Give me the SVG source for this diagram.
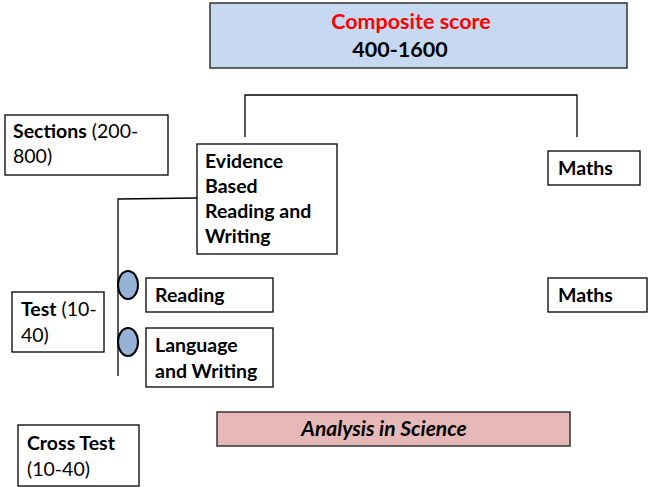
<svg xmlns="http://www.w3.org/2000/svg" width="649" height="487" viewBox="0 0 649 487">
<style>
text{font-family:Lato,"Open Sans","Liberation Sans",sans-serif;font-size:19.5px;fill:#000}
.b{font-weight:bold}
.box{fill:#fff;stroke:#000;stroke-width:1.3}
.ln{fill:none;stroke:#000;stroke-width:1.3}
.dot{fill:#95b3d7;stroke:#000;stroke-width:2}
</style>
<rect width="649" height="487" fill="#fff"/>
<g id="composite">
<rect x="210" y="3" width="417" height="65" fill="#c6d9f1" stroke="#333" stroke-width="1.5"/>
<text x="411" y="29" text-anchor="middle" class="b" style="font-size:21.5px;fill:#ff0000">Composite score</text>
<text x="400" y="57" text-anchor="middle" class="b" style="font-size:21.5px">400-1600</text>
</g>
<g id="connectors">
<polyline class="ln" points="245,137 245,95 577,95 577,137"/>
<polyline class="ln" points="197,198 118,199 118,376"/>
</g>
<g id="sections">
<rect class="box" x="5" y="115" width="163" height="60"/>
<text x="13" y="138"><tspan class="b">Sections</tspan> (200-</text>
<text x="13" y="163">800)</text>
</g>
<g id="ebrw">
<rect class="box" x="197" y="144" width="140" height="110"/>
<text class="b" x="205" y="168">Evidence</text>
<text class="b" x="205" y="193">Based</text>
<text class="b" x="205" y="218">Reading and</text>
<text class="b" x="205" y="243">Writing</text>
</g>
<g id="maths1">
<rect class="box" x="548" y="151" width="92" height="34"/>
<text class="b" x="558" y="175">Maths</text>
</g>
<g id="test">
<rect class="box" x="12" y="292" width="92" height="60"/>
<text x="21" y="316"><tspan class="b">Test</tspan> (10-</text>
<text x="21" y="342">40)</text>
</g>
<g id="reading-dot"><ellipse class="dot" cx="128" cy="285" rx="10" ry="14"/></g>
<g id="reading">
<rect class="box" x="146" y="278" width="127" height="34"/>
<text class="b" x="155" y="302">Reading</text>
</g>
<g id="language-dot"><ellipse class="dot" cx="128" cy="342" rx="10" ry="14"/></g>
<g id="language">
<rect class="box" x="146" y="328" width="127" height="59"/>
<text class="b" x="155" y="352">Language</text>
<text class="b" x="155" y="378">and Writing</text>
</g>
<g id="maths2">
<rect class="box" x="548" y="278" width="99" height="34"/>
<text class="b" x="558" y="302">Maths</text>
</g>
<g id="analysis">
<rect x="217" y="412" width="353" height="34" fill="#e6b9b8" stroke="#333" stroke-width="1.5"/>
<text x="384" y="436" text-anchor="middle" class="b" font-style="italic" style="font-size:21px">Analysis in Science</text>
</g>
<g id="crosstest">
<rect class="box" x="18" y="425" width="121" height="61"/>
<text class="b" x="27" y="450">Cross Test</text>
<text x="27" y="476">(10-40)</text>
</g>
</svg>
